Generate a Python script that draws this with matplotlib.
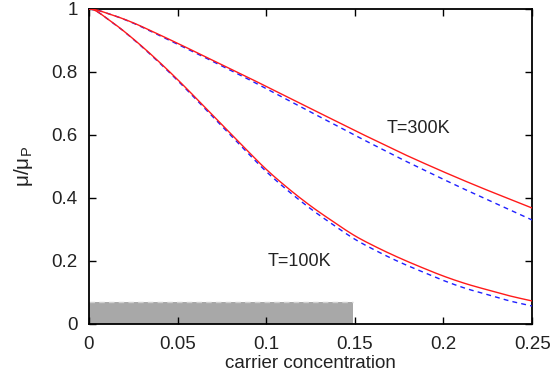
import matplotlib
matplotlib.use('Agg')
import matplotlib.pyplot as plt
import numpy as np

plt.rcParams['font.family'] = ['Liberation Sans', 'DejaVu Sans']

# carrier concentration grid
conc = [0.0, 0.0125, 0.025, 0.0375, 0.05, 0.0625, 0.075, 0.0875, 0.1, 0.1125, 0.125,
        0.1375, 0.15, 0.1625, 0.175, 0.1875, 0.2, 0.2125, 0.225, 0.2375, 0.25]

# T=300K
mu_300_red = [1.0, 0.982, 0.956, 0.924, 0.891, 0.857, 0.823, 0.789, 0.754, 0.719, 0.684,
              0.649, 0.614, 0.58, 0.546, 0.514, 0.483, 0.453, 0.424, 0.396, 0.368]
mu_300_blue = [1.0, 0.982, 0.955, 0.922, 0.888, 0.854, 0.819, 0.784, 0.747, 0.71, 0.673,
               0.636, 0.599, 0.563, 0.527, 0.493, 0.459, 0.426, 0.394, 0.362, 0.33]

# T=100K
mu_100_red = [1.0, 0.96, 0.905, 0.843, 0.776, 0.705, 0.633, 0.561, 0.491, 0.43, 0.375,
              0.326, 0.28, 0.243, 0.21, 0.18, 0.152, 0.128, 0.108, 0.089, 0.073]
mu_100_blue = [1.0, 0.96, 0.904, 0.841, 0.773, 0.701, 0.628, 0.555, 0.484, 0.422, 0.366,
               0.316, 0.269, 0.231, 0.197, 0.167, 0.138, 0.113, 0.093, 0.073, 0.057]

# shaded region
band_x = [0.0, 0.149]
band_top = 0.07

xticks = [0, 0.05, 0.1, 0.15, 0.2, 0.25]
xtick_labels = ['0', '0.05', '0.1', '0.15', '0.2', '0.25']
yticks = [0, 0.2, 0.4, 0.6, 0.8, 1.0]
ytick_labels = ['0', '0.2', '0.4', '0.6', '0.8', '1']


def catmull(x, y, n=12):
    # catmull-rom through the read points
    x = np.asarray(x); y = np.asarray(y)
    px = np.concatenate([[2 * x[0] - x[1]], x, [2 * x[-1] - x[-2]]])
    py = np.concatenate([[y[1]], y, [2 * y[-1] - y[-2]]])  # flat start
    xs, ys = [], []
    t = np.linspace(0, 1, n, endpoint=False)
    for i in range(1, len(px) - 2):
        for arr, out in ((px, xs), (py, ys)):
            p0, p1, p2, p3 = arr[i - 1], arr[i], arr[i + 1], arr[i + 2]
            out.extend(0.5 * (2 * p1 + (-p0 + p2) * t + (2 * p0 - 5 * p1 + 4 * p2 - p3) * t ** 2
                              + (-p0 + 3 * p1 - 3 * p2 + p3) * t ** 3))
    xs.append(x[-1]); ys.append(y[-1])
    return np.array(xs), np.array(ys)


fig = plt.figure(figsize=(5.52, 3.88), dpi=100)
ax = fig.add_axes([0.161, 0.165, 0.803, 0.812])

ax.fill_between(band_x, [0, 0], [band_top, band_top], color='#a8a8a8', lw=0, zorder=1)
ax.plot(band_x, [band_top, band_top], color='#d0d0d0', lw=1, dashes=(4, 3), zorder=2)

for red, blue in [(mu_300_red, mu_300_blue), (mu_100_red, mu_100_blue)]:
    xs, yb = catmull(conc, blue)
    ax.plot(xs, yb, color='#1f1fff', lw=1, dashes=(3.5, 3), zorder=3)
    xs, yr = catmull(conc, red)
    ax.plot(xs, yr, color='#ff1a1a', lw=1, zorder=4)

ax.text(0.186, 0.622, 'T=300K', fontsize=13, ha='center', va='center', color='#222222')
ax.text(0.119, 0.197, 'T=100K', fontsize=13, ha='center', va='center', color='#222222')

ax.set_xlim(0, 0.25)
ax.set_ylim(0, 1)
ax.set_xticks(xticks)
ax.set_xticklabels(xtick_labels)
ax.set_yticks(yticks)
ax.set_yticklabels(ytick_labels)
ax.tick_params(direction='in', length=5, width=1, top=True, right=True, labelsize=13.5,
               labelcolor='#222222')
ax.tick_params(axis='x', pad=9)
ax.tick_params(axis='y', pad=8)
for s in ax.spines.values():
    s.set_linewidth(1.3)

ax.set_xlabel('carrier concentration', fontsize=13.5, color='#222222', labelpad=1)
ax.set_ylabel(r'$\mathregular{\mu/\mu_P}$', fontsize=15, labelpad=12, color='#222222')

fig.savefig('out.png', dpi=100)
